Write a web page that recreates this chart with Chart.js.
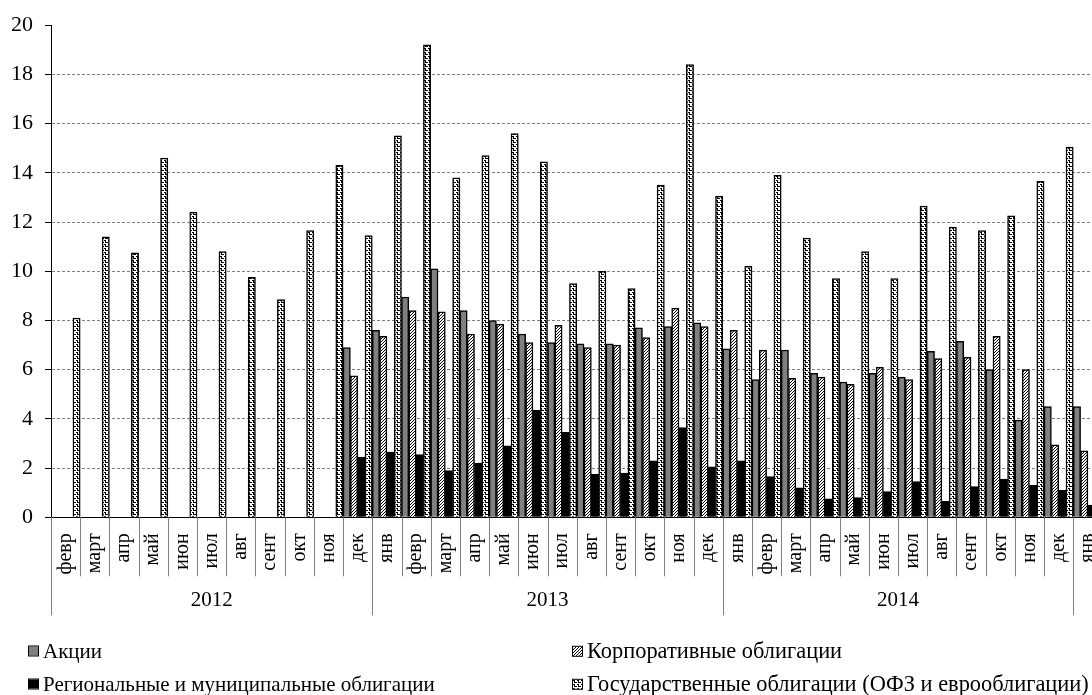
<!DOCTYPE html>
<html lang="ru">
<head>
<meta charset="utf-8">
<title>Структура торгов по месяцам</title>
<script src="https://cdn.jsdelivr.net/npm/chart.js@4.4.1/dist/chart.umd.min.js"></script>
<style>
  html, body { margin: 0; padding: 0; width: 1092px; height: 695px; overflow: hidden; background: #fff; }
  #wrap { position: relative; width: 1092px; height: 695px; overflow: hidden; }
  #chart { position: absolute; left: 0; top: 0; }
  .legend-item { position: absolute; display: flex; align-items: center; font-family: "Liberation Serif", "Times New Roman", serif; color: #000; white-space: nowrap; line-height: 1; }
  .swatch { width: 9px; height: 9px; border: 1.5px solid #000; margin-right: 4px; image-rendering: pixelated; background-repeat: repeat; flex: none; }
</style>
</head>
<body>
<div id="wrap">
  <canvas id="chart" width="1110" height="695"></canvas>
</div>
<script>
// Month labels: февраль 2012 – январь 2015
const months = [
  'февр','март','апр','май','июн','июл','авг','сент','окт','ноя','дек',
  'янв','февр','март','апр','май','июн','июл','авг','сент','окт','ноя','дек',
  'янв','февр','март','апр','май','июн','июл','авг','сент','окт','ноя','дек',
  'янв'
];
const years = ['2012', '2013', '2014', '2015'];
const yearSpans = [11, 12, 12, 1];

const seriesNames = [
  'Акции',
  'Корпоративные облигации',
  'Региональные и муниципальные облигации',
  'Государственные облигации (ОФЗ и еврооблигации)'
];

const stocks = [
  null, null, null, null, null, null, null, null, null, null, 6.9,
  7.6, 8.95, 10.1, 8.4, 8.0, 7.45, 7.1, 7.05, 7.05, 7.7, 7.75, 7.9,
  6.85, 5.6, 6.8, 5.85, 5.5, 5.85, 5.7, 6.75, 7.15, 6.0, 3.95, 4.5,
  4.5
];
const corporate = [
  null, null, null, null, null, null, null, null, null, null, 5.75,
  7.35, 8.4, 8.35, 7.45, 7.85, 7.1, 7.8, 6.9, 7.0, 7.3, 8.5, 7.75,
  7.6, 6.8, 5.65, 5.7, 5.4, 6.1, 5.6, 6.45, 6.5, 7.35, 6.0, 2.95,
  2.7
];
const regional = [
  null, null, null, null, null, null, null, null, null, null, 2.45,
  2.65, 2.55, 1.9, 2.2, 2.9, 4.35, 3.45, 1.75, 1.8, 2.3, 3.65, 2.05,
  2.3, 1.65, 1.2, 0.75, 0.8, 1.05, 1.45, 0.65, 1.25, 1.55, 1.3, 1.1,
  0.5
];
const government = [
  8.1, 11.4, 10.75, 14.6, 12.4, 10.8, 9.75, 8.85, 11.65, 14.3, 11.45,
  15.5, 19.2, 13.8, 14.7, 15.6, 14.45, 9.5, 10.0, 9.3, 13.5, 18.4, 13.05,
  10.2, 13.9, 11.35, 9.7, 10.8, 9.7, 12.65, 11.8, 11.65, 12.25, 13.65, 15.05,
  null
];

const yTicks = [0, 2, 4, 6, 8, 10, 12, 14, 16, 18, 20];

// --- fill patterns -------------------------------------------------------
function makeTile(w, h, bg, fg, cells) {
  const c = document.createElement('canvas');
  c.width = w; c.height = h;
  const g = c.getContext('2d');
  g.fillStyle = bg; g.fillRect(0, 0, w, h);
  g.fillStyle = fg;
  cells.forEach(([x, y]) => g.fillRect(x, y, 1, 1));
  return c;
}
// diagonal "////" hatch
const hatchTile = makeTile(3, 3, '#fff', '#000', [[0, 2], [1, 1], [2, 0]]);
// small stepped squiggle
const weaveTile = makeTile(4, 4, '#fff', '#000', [[0, 0], [1, 0], [1, 1], [1, 2], [2, 2], [3, 2]]);
const solidGrey = makeTile(1, 1, '#808080', '#808080', []);
const solidBlack = makeTile(1, 1, '#000', '#000', []);

const patCtx = document.createElement('canvas').getContext('2d');
const fills = [
  '#808080',
  patCtx.createPattern(hatchTile, 'repeat'),
  '#000000',
  patCtx.createPattern(weaveTile, 'repeat')
];
const swatchTiles = [solidGrey, hatchTile, solidBlack, weaveTile];

// --- axis decorations: month separators, year separators and year labels ---
const groupedAxis = {
  id: 'groupedAxis',
  afterDraw(chart) {
    const { ctx, scales: { x } } = chart;
    const n = months.length;
    const w = (x.right - x.left) / n;
    const top = x.top;
    const yearEdges = [0];
    yearSpans.forEach(s => yearEdges.push(yearEdges[yearEdges.length - 1] + s));

    ctx.save();
    ctx.lineWidth = 1;
    ctx.strokeStyle = '#808080';
    for (let i = 0; i <= n; i++) {
      const px = Math.round(x.left + i * w) + 0.5;
      const len = yearEdges.includes(i) ? 98 : 59;
      ctx.beginPath();
      ctx.moveTo(px, top);
      ctx.lineTo(px, top + len);
      ctx.stroke();
    }
    ctx.fillStyle = '#000';
    ctx.font = '21px "Liberation Serif", "Times New Roman", serif';
    ctx.textAlign = 'center';
    ctx.textBaseline = 'middle';
    years.forEach((label, k) => {
      // the trailing year has only its first month in view, so no label fits
      if (yearSpans[k] < 2) return;
      const cx = x.left + (yearEdges[k] + yearEdges[k + 1]) / 2 * w;
      ctx.fillText(label, cx, top + 83);
    });
    ctx.restore();
  }
};

const chartTop = 20.3;
const chartBottom = 517.3;
const axisLeft = 51;
const canvasH = 695;

new Chart(document.getElementById('chart'), {
  type: 'bar',
  data: {
    labels: months,
    datasets: [stocks, corporate, regional, government].map((d, i) => ({
      label: seriesNames[i],
      data: d,
      backgroundColor: fills[i],
      borderColor: '#000',
      borderWidth: 1.5,
      categoryPercentage: 1.0,
      barPercentage: 1.0
    }))
  },
  options: {
    responsive: false,
    animation: false,
    events: [],
    layout: { padding: { top: chartTop, right: 7.5, left: 0, bottom: 0 } },
    plugins: { legend: { display: false }, tooltip: { enabled: false } },
    scales: {
      x: {
        type: 'category',
        offset: true,
        grid: { display: false, drawTicks: false },
        border: { display: true, color: '#000', width: 1 },
        ticks: {
          autoSkip: false,
          minRotation: 90,
          maxRotation: 90,
          padding: 16,
          color: '#000',
          font: { family: '"Liberation Serif", "Times New Roman", serif', size: 20 }
        },
        afterFit(scale) {
          scale.height = canvasH - chartBottom;
          scale.paddingLeft = 0;
          scale.paddingRight = 0;
        }
      },
      y: {
        min: 0,
        max: 20,
        afterBuildTicks(scale) { scale.ticks = yTicks.map(v => ({ value: v })); },
        grid: {
          color: c => (c.tick && (c.tick.value === 0 || c.tick.value === 20)) ? 'rgba(0,0,0,0)' : '#7f7f7f',
          lineWidth: 1,
          tickColor: '#000',
          tickLength: 6,
          tickBorderDash: []
        },
        border: { display: true, color: '#000', width: 1, dash: [3, 2] },
        ticks: {
          padding: 12,
          color: '#000',
          font: { family: '"Liberation Serif", "Times New Roman", serif', size: 22 }
        },
        afterFit(scale) { scale.width = axisLeft; }
      }
    }
  },
  plugins: [groupedAxis]
});

// --- legend in two columns below the axis ---------------------------------
const legendPos = [
  { left: 28, top: 651, size: 21 },
  { left: 572, top: 651, size: 22.4 },
  { left: 28, top: 684, size: 21 },
  { left: 572, top: 684, size: 22.4 }
];
const wrap = document.getElementById('wrap');
seriesNames.forEach((name, i) => {
  const item = document.createElement('div');
  item.className = 'legend-item';
  item.style.left = legendPos[i].left + 'px';
  item.style.top = legendPos[i].top + 'px';
  item.style.fontSize = legendPos[i].size + 'px';
  item.style.transform = 'translateY(-50%)';
  const sw = document.createElement('span');
  sw.className = 'swatch';
  sw.style.backgroundImage = 'url(' + swatchTiles[i].toDataURL() + ')';
  const txt = document.createElement('span');
  txt.textContent = name;
  item.appendChild(sw);
  item.appendChild(txt);
  wrap.appendChild(item);
});
</script>
</body>
</html>
